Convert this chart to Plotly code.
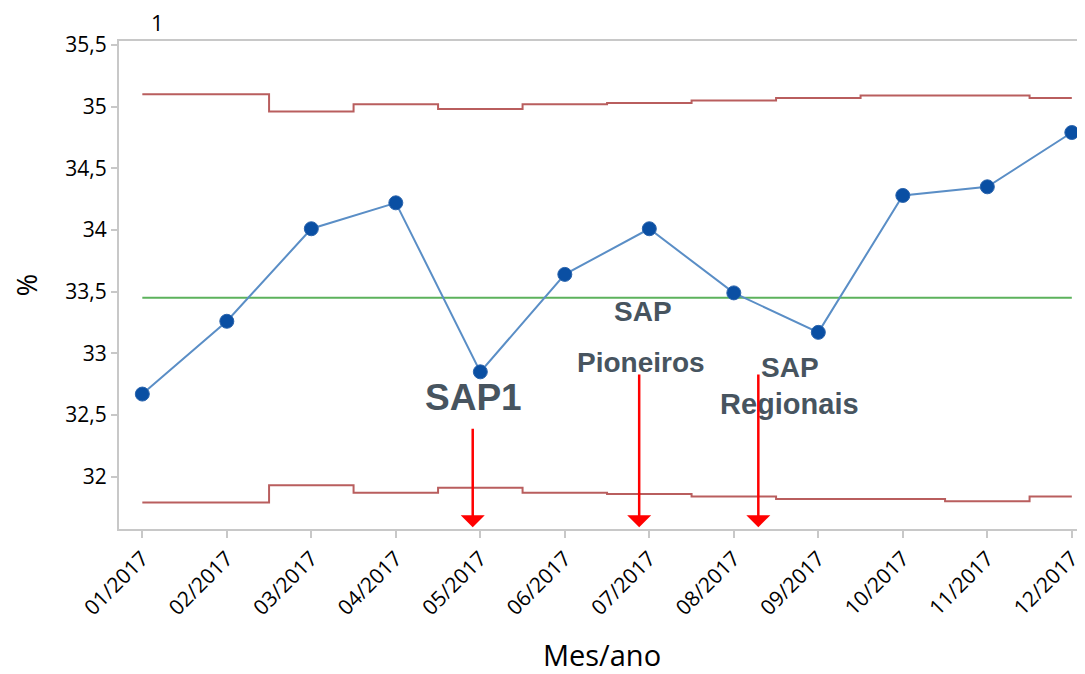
import plotly.graph_objects as go

months = ["01/2017", "02/2017", "03/2017", "04/2017", "05/2017", "06/2017",
          "07/2017", "08/2017", "09/2017", "10/2017", "11/2017", "12/2017"]
values = [32.67, 33.26, 34.01, 34.22, 32.85, 33.64, 34.01, 33.49, 33.17, 34.28, 34.35, 34.79]
ucl = [35.10, 35.10, 34.96, 35.02, 34.98, 35.02, 35.03, 35.05, 35.07, 35.09, 35.09, 35.07]
lcl = [31.79, 31.79, 31.93, 31.87, 31.91, 31.87, 31.86, 31.84, 31.82, 31.82, 31.80, 31.84]
center = 33.45

ytick_vals = [32, 32.5, 33, 33.5, 34, 34.5, 35, 35.5]
ytick_text = ["32", "32,5", "33", "33,5", "34", "34,5", "35", "35,5"]

# event labels: (text, x, y, size)
event_labels = [
    ("SAP1", 4.914, 32.645, 37),
    ("SAP", 6.925, 33.343, 28),
    ("Pioneiros", 6.90, 32.929, 28),
    ("SAP", 8.665, 32.889, 28),
    ("Regionais", 8.66, 32.59, 29),
]
# event arrows: (x, y_start, y_tip)
event_arrows = [
    (4.91, 32.40, 31.59),
    (6.88, 32.84, 31.59),
    (8.29, 32.84, 31.59),
]

x = list(range(1, len(months) + 1))

fig = go.Figure()
fig.add_trace(go.Scatter(x=x, y=ucl, mode="lines", line=dict(color="#b95e5e", width=2, shape="hvh"),
                         hoverinfo="skip", showlegend=False))
fig.add_trace(go.Scatter(x=x, y=lcl, mode="lines", line=dict(color="#b95e5e", width=2, shape="hvh"),
                         hoverinfo="skip", showlegend=False))
fig.add_trace(go.Scatter(x=[x[0], x[-1]], y=[center, center], mode="lines",
                         line=dict(color="#5cb25c", width=2), showlegend=False))
fig.add_trace(go.Scatter(x=x, y=values, mode="lines+markers",
                         line=dict(color="#5a8ec6", width=2),
                         marker=dict(color="#0a4fa3", size=14, line=dict(color="#2a64ad", width=1)),
                         showlegend=False))

annotations = []
for text, ax_, ay_, sz in event_labels:
    annotations.append(dict(x=ax_, y=ay_, xref="x", yref="y", text="<b>%s</b>" % text, showarrow=False,
                            font=dict(family="Liberation Sans, Arial", size=sz, color="#47545f"),
                            xanchor="center", yanchor="middle"))
for xa, y0, y1 in event_arrows:
    annotations.append(dict(x=xa, y=y1, ax=xa, ay=y0, xref="x", yref="y", axref="x", ayref="y",
                            text="", showarrow=True, arrowhead=1, arrowsize=1.6, arrowwidth=2.5,
                            arrowcolor="#ff0000", standoff=0))
annotations.append(dict(x=1.174, y=1.0, xref="x", yref="paper", yshift=2, text="1", showarrow=False,
                        font=dict(family="Open Sans", size=22, color="#000000"),
                        xanchor="center", yanchor="bottom"))

fig.update_layout(
    width=1077, height=666,
    margin=dict(l=111, r=0, t=33, b=145, autoexpand=False),
    paper_bgcolor="white", plot_bgcolor="white",
    font=dict(family="Open Sans", color="#000000"),
    annotations=annotations,
    xaxis=dict(range=[0.724, 12.156], tickvals=x, ticktext=months, tickangle=-45,
               tickfont=dict(size=21), showline=True, linecolor="#c8c8c8", linewidth=2,
               mirror=True, ticks="outside", ticklen=7, tickcolor="#c8c8c8", tickwidth=2,
               showgrid=False, zeroline=False, automargin=False,
               title=dict(text="Mes/ano", font=dict(size=29), standoff=29)),
    yaxis=dict(range=[31.576, 35.532], tickvals=ytick_vals, ticktext=ytick_text,
               tickfont=dict(size=21), showline=True, linecolor="#c8c8c8", linewidth=2,
               ticks="outside", ticklen=6, tickcolor="#c8c8c8", tickwidth=2,
               showgrid=False, zeroline=False, automargin=False,
               title=dict(text="%", font=dict(size=27), standoff=30)),
)

fig.write_html("out.html")
